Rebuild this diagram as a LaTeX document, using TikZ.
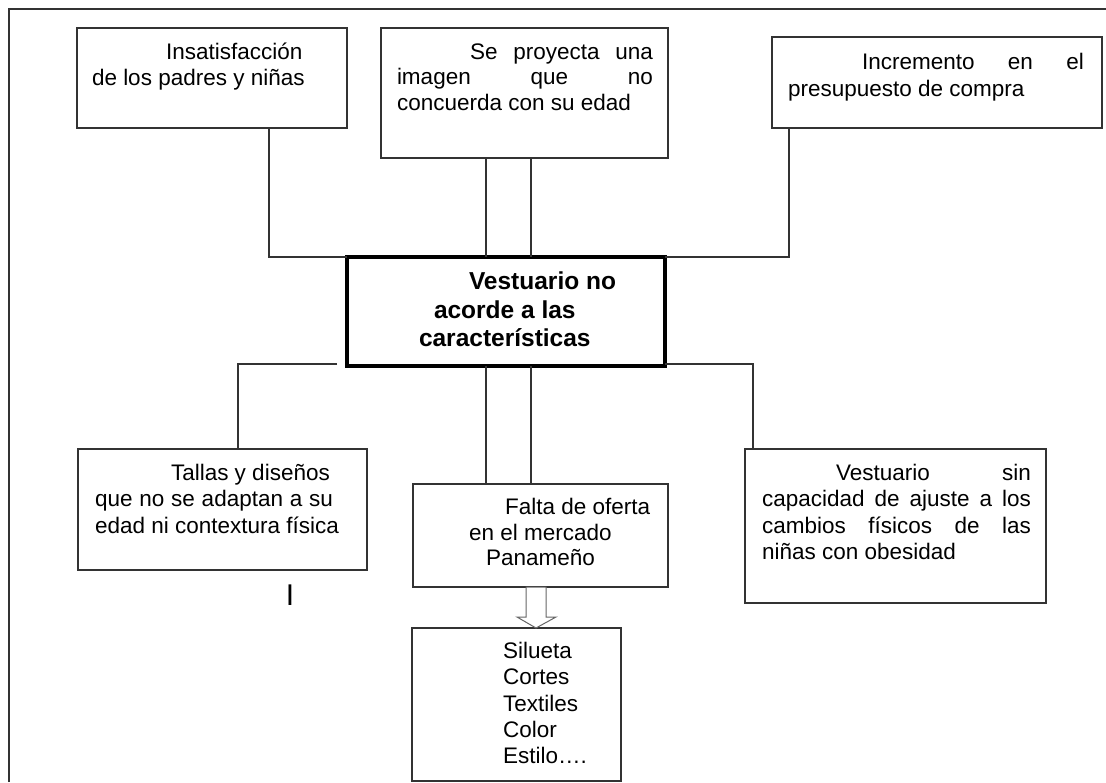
\documentclass[tikz,border=0pt]{standalone}
\usepackage{fontspec}
\setmainfont{Liberation Sans}
\usetikzlibrary{calc}
\definecolor{ink}{HTML}{333333}
\begin{document}
\begin{tikzpicture}[x=1pt,y=-1pt,
  box/.style={draw=ink,line width=1.2pt,inner sep=0pt,outer sep=0pt,anchor=north west,fill=white},
  mainbox/.style={draw=black,line width=4.5pt,inner sep=0pt,outer sep=0pt,anchor=north west},
  ln/.style={draw=ink,line width=1.2pt},
  txt/.style={inner sep=0pt,outer sep=0pt,anchor=base west,font=\fontsize{22.5}{26}\selectfont},
  btxt/.style={inner sep=0pt,outer sep=0pt,anchor=base west,font=\fontsize{24.5}{28}\selectfont\bfseries}]
\useasboundingbox (0,0) rectangle (1106,782);
\fill[white] (0,0) rectangle (1106,782);
% outer frame
\draw[ink,line width=1.2pt] (9,782) -- (9,9) -- (1106,9);

% boxes
\node[box,minimum width=270pt,minimum height=100pt] (b1) at (77,28) {};
\node[box,minimum width=287pt,minimum height=130pt] (b2) at (381,28) {};
\node[box,minimum width=330pt,minimum height=91pt] (b3) at (772,37) {};
\node[mainbox,minimum width=318pt,minimum height=109pt] (cb) at (347,257) {};
\node[box,minimum width=289pt,minimum height=121pt] (b4) at (78,449) {};
\node[box,minimum width=255pt,minimum height=103pt] (b5) at (413,484) {};
\node[box,minimum width=301pt,minimum height=154pt] (b6) at (745,449) {};
\node[box,minimum width=209pt,minimum height=153pt] (b7) at (412,628) {};

% connectors top
\draw[ln] ($(b1.south west)+(192,0)$) |- (cb.north west);
\draw[ln] ($(b3.south west)+(17,0)$) |- (cb.north east);
\draw[ln] ($(cb.north west)+(139,0)$) -- ($(b2.south west)+(105,0)$);
\draw[ln] ($(cb.north west)+(184,0)$) -- ($(b2.south west)+(150,0)$);
% connectors bottom
\draw[ln] ($(cb.south west)+(139,0)$) -- ($(b5.north west)+(73,0)$);
\draw[ln] ($(cb.south west)+(184,0)$) -- ($(b5.north west)+(118,0)$);
\coordinate (gapL) at ($(cb.south west)+(-10,-2)$);
\draw[ln] (gapL) -| ($(b4.north west)+(160,0)$);
\draw[ln] ($(cb.south east)+(0,-2)$) -| ($(b6.north west)+(8,0)$);

% block arrow
\draw[draw=gray!80!black,line width=1pt,fill=white]
  ($(b5.south west)+(113,0)$) -- ++(20,0) -- ++(0,30) -- ++(10,0) -- ($(b7.north west)+(124,0)$)
  -- ++(-19,-11) -- ++(9,0) -- cycle;

% texts
\node[txt] (t1a) at (166,59) {Insatisfacción};
\node[txt] (t1b) at (92,85) {de los padres y niñas};

\node[txt] (t2a) at (470,59) {\makebox[183pt][s]{Se\hfill proyecta\hfill una}};
\node[txt] (t2b) at (397,84.5) {\makebox[256pt][s]{imagen\hfill que\hfill no}};
\node[txt] (t2c) at (397,110) {concuerda con su edad};

\node[txt] (t3a) at (862,69) {\makebox[222pt][s]{Incremento\hfill en\hfill el}};
\node[txt] (t3b) at (788,96) {presupuesto de compra};

\node[btxt] (c1) at (469,289) {Vestuario no};
\node[btxt] (c2) at (434,318) {acorde a las};
\node[btxt] (c3) at (419,346) {características};

\node[txt] (t4a) at (171,480) {Tallas y diseños};
\node[txt] (t4b) at (95,506) {\makebox[238pt][s]{que\hfill no\hfill se\hfill adaptan\hfill a\hfill su}};
\node[txt] (t4c) at (95,533) {edad ni contextura física};

\node[txt] (t5a) at (505,514) {Falta de oferta};
\node[txt] (t5b) at (469,540) {en el mercado};
\node[txt] (t5c) at (486,565) {Panameño};

\node[txt] (t6a) at (836,480) {\makebox[195pt][s]{Vestuario\hfill sin}};
\node[txt] (t6b) at (762,506) {\makebox[269pt][s]{capacidad\hfill de\hfill ajuste\hfill a\hfill los}};
\node[txt] (t6c) at (762,533) {\makebox[269pt][s]{cambios\hfill físicos\hfill de\hfill las}};
\node[txt] (t6d) at (762,559) {niñas con obesidad};

\node[txt] (t7a) at (503,658) {Silueta};
\node[txt] (t7b) at (503,684) {Cortes};
\node[txt] (t7c) at (503,711) {Textiles};
\node[txt] (t7d) at (503,737) {Color};
\node[txt] (t7e) at (503,763) {Estilo….};

\node[inner sep=0pt,anchor=base,font=\fontsize{30}{32}\selectfont] (mark) at (290,605) {I};
\end{tikzpicture}
\end{document}
